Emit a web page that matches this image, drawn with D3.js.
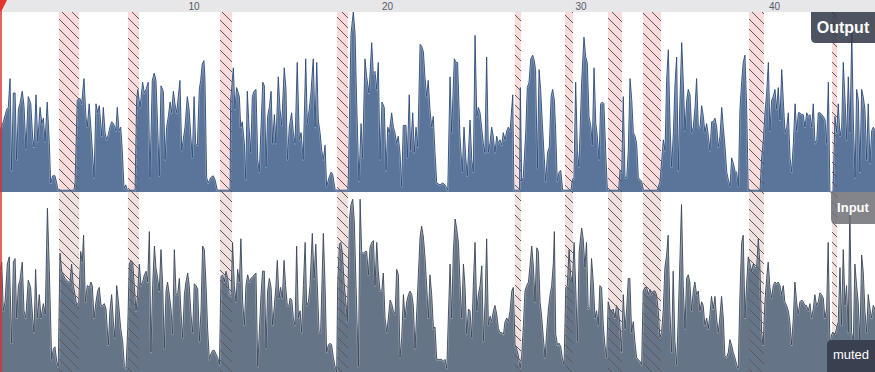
<!DOCTYPE html>
<html>
<head>
<meta charset="utf-8">
<script src="https://cdn.jsdelivr.net/npm/d3@7"></script>
<style>
  html, body { margin: 0; padding: 0; background: #fff; }
  svg { display: block; }
  text { font-family: "Liberation Sans", Arial, sans-serif; }
</style>
</head>
<body>
<svg id="chart" width="875" height="372"></svg>
<script>
// time in seconds, level in % of track height
const outTime = [
  0.00,0.17,0.35,0.43,0.52,0.60,0.69,0.78,0.86,0.95,1.03,1.15,1.24,1.29,1.34,1.46,1.59,1.69,1.76,1.86,
  1.95,2.07,2.16,2.24,2.33,2.44,2.55,2.62,2.72,2.84,2.93,3.01,3.82,3.88,3.99,4.13,4.22,4.34,4.44,4.51,
  4.61,4.74,4.86,4.96,5.05,5.13,
  5.26,5.34,5.43,5.51,5.60,5.68,5.77,5.86,5.94,5.99,6.06,6.15,6.24,6.32,6.41,6.50,6.58,6.98,7.06,7.12,
  7.24,7.37,7.46,7.55,7.66,7.75,7.87,7.97,8.06,8.15,8.23,8.32,8.44,8.53,8.61,8.70,8.79,8.87,8.96,9.04,
  9.13,9.30,9.39,9.47,9.56,9.68,9.77,9.86,9.94,10.03,10.11,10.20,10.30,10.37,10.45,10.54,10.59,10.68,10.76,10.89,
  11.02,11.11,11.23,11.89,11.92,12.06,12.14,12.23,12.37,12.44,12.52,12.63,12.70,12.78,12.87,12.96,13.04,13.13,13.23,13.32,
  13.40,13.49,13.58,13.66,13.75,13.83,13.92,14.01,14.09,14.18,14.26,14.38,14.47,14.56,14.69,14.78,14.85,14.95,
  15.07,15.16,15.25,15.36,15.47,15.56,15.67,15.80,15.88,15.98,16.07,16.19,16.28,16.37,16.45,16.54,16.63,16.71,16.80,16.88,
  17.00,17.11,17.19,17.31,17.40,17.97,18.00,18.14,18.26,18.35,18.43,18.55,18.66,18.74,18.86,18.95,19.07,19.21,19.29,19.38,
  19.47,19.55,19.64,19.74,19.86,19.95,20.04,20.12,20.24,20.33,20.41,20.50,20.58,20.67,20.76,20.84,20.98,21.05,21.15,21.22,
  21.33,21.41,21.50,21.59,21.71,21.79,21.88,21.96,22.05,22.13,22.22,22.31,22.39,22.48,22.57,22.74,22.88,23.00,23.14,23.26,
  23.34,23.48,23.57,23.65,23.77,23.89,23.98,24.07,24.15,24.29,24.38,24.46,24.55,24.64,24.72,24.81,24.89,24.98,25.06,25.15,
  25.24,25.32,25.41,25.49,25.58,25.67,25.75,25.84,25.93,26.01,26.10,26.19,26.27,26.36,26.50,26.56,26.85,26.89,26.96,27.04,
  27.17,27.25,27.34,27.43,27.53,27.61,27.68,27.77,27.86,27.94,28.03,28.11,28.20,28.30,28.39,28.48,28.56,28.65,28.72,28.80,
  28.89,28.98,29.08,29.51,29.58,29.66,29.75,29.84,29.92,30.06,30.18,30.27,30.35,30.44,30.54,30.61,30.70,30.79,30.87,30.96,
  31.04,31.13,31.21,31.30,31.39,31.97,32.04,32.13,32.21,32.30,32.39,32.47,32.56,32.65,32.73,32.82,32.90,32.99,33.07,33.16,
  33.25,33.97,34.11,34.20,34.28,34.37,34.45,34.54,34.63,34.71,34.80,34.88,34.97,35.05,35.14,35.23,35.31,35.40,35.49,35.57,
  35.66,35.75,35.83,35.92,36.00,36.09,36.18,36.26,36.35,36.43,36.52,36.61,36.69,36.78,36.86,36.95,37.04,37.12,37.21,37.30,
  37.38,37.47,37.56,37.64,37.73,37.81,37.90,37.98,38.07,38.16,38.24,38.33,38.41,38.50,38.59,38.67,39.28,39.36,39.45,39.53,
  39.62,39.71,39.79,39.88,39.96,40.05,40.14,40.22,40.31,40.40,40.48,40.57,40.66,40.74,40.83,40.91,41.00,41.09,41.17,41.26,
  41.34,41.43,41.51,41.60,41.69,41.77,41.86,41.95,42.03,42.12,42.21,42.29,42.38,42.47,42.55,42.64,42.72,42.81,42.89,43.05,
  43.15,43.24,43.32,43.41,43.50,43.58,43.67,43.76,43.84,43.93,44.02,44.10,44.19,44.27,44.36,44.44,44.53,44.61,44.70,44.79,
  44.87,44.96,45.05,45.13,45.22
];
const outLevel = [
  34,39,46,47,63,12,55,55,18,46,49,56,48,36,24,53,49,30,25,54,
  28,47,38,41,28,50,27,5,9,9,5,1,1,5,51,52,49,63,42,36,
  49,29,8,49,44,48,
  31,47,33,29,32,36,39,38,36,34,47,34,36,23,2,4,1,1,51,57,
  47,61,55,57,61,8,62,66,62,36,9,59,56,18,36,42,50,44,56,49,
  44,62,23,29,36,53,46,31,19,53,27,26,57,62,71,73,64,8,5,8,
  9,7,1,1,51,69,46,58,53,36,39,27,7,56,36,22,53,56,57,18,
  11,36,61,59,14,42,47,56,27,43,27,64,46,37,69,57,18,36,
  44,33,27,72,29,33,18,74,38,46,55,74,36,72,40,33,23,18,26,3,
  8,11,10,2,1,1,7,88,100,88,51,6,38,19,74,64,55,83,66,67,
  57,72,18,50,47,12,36,33,44,36,33,27,31,22,3,37,37,19,54,23,
  44,22,36,25,82,81,78,64,53,62,46,36,42,22,5,4,5,4,1,64,
  33,74,72,72,31,11,36,19,9,40,18,11,87,42,47,44,36,27,22,75,
  22,27,36,31,22,31,27,29,26,33,29,34,36,34,54,1,1,58,6,8,
  33,58,61,74,76,73,68,13,68,57,38,22,6,22,25,53,57,51,33,6,
  11,12,1,1,7,8,61,23,14,61,86,75,72,42,36,26,69,38,31,18,
  49,50,49,23,1,1,12,11,53,8,8,23,63,51,33,31,27,8,7,6,
  1,1,6,18,29,23,62,79,36,14,33,59,75,12,51,83,62,34,51,57,
  54,33,36,47,63,36,36,48,42,33,38,31,23,39,39,41,36,25,31,47,
  36,25,11,7,3,19,16,12,11,3,46,61,72,76,46,1,1,19,29,44,
  55,72,34,51,53,57,46,58,40,68,51,33,36,44,19,11,27,49,34,44,
  44,43,43,36,44,42,43,36,49,27,29,44,44,43,42,40,27,61,0,0,
  42,33,49,31,36,72,51,29,64,33,89,40,8,57,51,11,57,53,46,18,
  49,16,34,36,34
];
const inTime = [
  0.00,0.09,0.17,0.26,0.38,0.48,0.60,0.69,0.78,0.86,0.95,1.03,1.15,1.24,1.33,1.46,1.58,1.69,1.76,1.84,
  1.93,2.03,2.12,2.24,2.34,2.45,2.55,2.67,2.76,2.84,2.93,3.01,3.10,3.19,3.27,3.36,3.45,3.53,3.62,3.70,
  3.79,3.88,3.96,4.07,4.17,4.25,4.32,4.41,4.51,4.62,4.70,4.77,4.86,4.96,5.05,5.13,5.22,5.31,5.39,5.48,
  5.60,5.68,5.77,5.86,5.94,6.03,6.12,6.24,6.34,6.43,6.51,6.60,6.68,6.77,6.86,6.94,7.03,7.11,7.20,7.29,
  7.37,7.46,7.55,7.63,7.72,7.80,7.89,7.98,8.06,8.15,8.23,8.32,8.41,8.49,8.58,8.66,8.75,8.84,8.92,9.01,
  9.10,9.18,9.27,9.35,9.44,9.53,9.61,9.70,9.78,9.87,9.96,10.04,10.13,10.22,10.30,10.39,10.47,10.56,10.65,10.73,
  10.82,10.90,10.99,11.08,11.16,11.25,11.34,11.42,11.51,11.59,11.68,11.77,11.85,11.94,12.02,12.11,12.20,12.28,12.37,12.45,
  12.54,12.63,12.71,12.80,12.89,12.97,13.06,13.14,13.23,13.32,13.40,13.49,13.57,13.66,13.75,13.83,13.92,14.01,14.09,14.18,
  14.26,14.33,14.42,14.50,14.59,14.68,14.76,14.85,14.94,
  14.99,15.08,15.16,15.25,15.33,15.42,15.51,15.59,15.68,15.77,15.85,15.94,16.02,16.14,16.23,16.32,16.40,16.49,16.57,16.71,
  16.80,16.88,16.97,17.06,17.14,17.23,17.32,17.40,17.45,17.54,17.61,17.69,17.78,17.87,17.95,18.06,18.14,18.23,18.31,18.40,
  18.52,18.61,18.69,18.78,18.87,18.95,19.04,19.12,19.21,19.30,19.38,19.47,19.55,19.64,19.73,19.81,19.90,19.99,20.07,20.16,
  20.24,20.33,20.42,20.50,20.59,20.67,20.76,20.85,20.93,21.02,21.11,21.19,21.28,21.36,21.45,21.54,21.62,21.71,21.79,21.88,
  21.97,22.05,22.14,22.22,22.31,22.40,22.48,22.57,22.65,22.74,22.83,22.91,23.00,23.09,23.17,23.26,23.34,23.43,23.52,23.60,
  23.69,23.78,23.86,23.95,24.03,24.12,24.21,24.29,24.38,24.46,24.55,24.64,24.72,24.81,24.90,24.98,25.07,25.15,25.24,25.33,
  25.41,25.50,25.58,25.67,25.76,25.84,25.93,26.02,26.10,26.19,26.27,26.36,26.45,26.53,26.62,26.70,26.79,26.88,26.96,27.05,
  27.13,27.22,27.31,27.39,27.48,27.57,27.65,27.74,27.82,27.91,28.00,28.08,28.17,28.25,28.34,28.43,28.51,28.60,28.65,28.72,
  28.81,28.89,28.98,29.06,29.15,29.24,29.32,29.41,29.49,29.58,29.67,29.75,29.84,29.93,
  30.06,30.14,30.23,30.31,30.40,30.49,30.57,30.66,30.75,30.83,30.92,31.00,31.09,31.18,31.26,31.35,31.43,31.52,31.61,31.69,
  31.78,31.86,31.95,32.04,32.12,32.21,32.30,32.38,32.47,32.55,32.64,32.73,32.81,32.90,32.98,33.07,33.16,33.24,33.33,33.42,
  33.50,33.59,33.67,33.76,33.85,33.93,34.02,34.10,34.19,34.28,34.36,34.45,34.53,34.62,34.71,34.79,34.88,34.97,35.05,35.14,
  35.22,35.31,35.40,35.48,35.57,35.65,35.74,35.83,35.91,36.00,36.09,36.17,36.26,36.34,36.43,36.52,36.60,36.69,36.77,36.86,
  36.95,37.03,37.12,37.20,37.29,37.38,37.46,37.55,37.64,37.72,37.81,37.89,37.98,38.07,38.15,38.24,38.33,38.41,38.50,38.58,
  38.67,38.76,38.84,38.93,39.01,39.10,39.19,39.27,39.36,39.44,39.53,39.62,39.70,39.79,39.88,39.96,40.05,40.13,40.22,40.31,
  40.39,40.48,40.56,40.65,40.74,40.82,40.91,41.00,41.08,41.17,41.25,41.34,41.43,41.51,41.60,41.68,41.77,41.86,41.94,42.03,
  42.11,42.20,42.29,42.37,42.46,42.55,42.63,42.72,42.80,42.89,42.98,43.06,43.15,43.23,43.32,43.41,43.49,43.58,43.67,43.75,
  43.84,43.92,44.01,44.10,44.18,44.27,44.35,44.44,44.53,44.61,44.70,44.79,44.87,44.96,45.04,45.13,45.22
];
const inLevel = [
  56,61,34,39,60,64,16,61,63,30,48,51,61,34,30,51,47,30,22,57,
  30,43,30,38,32,91,56,7,13,14,6,3,66,56,54,52,51,50,50,60,
  48,43,37,39,67,61,76,39,48,47,50,48,30,39,45,47,37,37,38,35,
  15,34,43,28,19,48,39,24,17,3,2,24,60,62,61,48,34,43,60,48,
  50,54,56,50,78,11,48,70,58,52,45,68,48,13,45,50,43,35,21,68,
  43,43,52,34,19,43,50,55,48,32,22,49,48,46,17,34,70,68,48,24,
  7,10,12,12,10,8,4,53,54,50,56,52,43,42,72,48,39,57,50,74,
  39,26,48,54,50,52,53,54,55,3,22,43,56,56,13,45,52,47,26,37,
  48,62,41,47,41,62,48,37,37,
  41,40,30,26,70,30,34,22,48,72,37,39,48,77,52,71,48,22,22,77,
  48,11,15,16,15,8,3,0,48,71,72,67,50,39,28,85,93,96,84,48,
  3,96,67,66,67,67,54,69,72,73,48,72,56,45,45,55,30,22,30,40,
  38,34,32,57,54,8,19,43,30,39,43,45,43,37,13,34,54,75,81,75,
  63,48,30,54,43,24,25,7,7,7,7,6,7,2,30,60,30,67,85,80,
  72,48,30,60,48,21,35,34,19,48,72,34,43,48,59,17,39,74,26,31,
  28,34,37,32,24,22,22,21,28,30,28,34,45,47,15,13,9,2,9,26,
  45,48,50,59,70,58,39,69,67,39,30,19,8,22,35,43,48,61,78,21,
  15,16,14,8,4,47,48,68,54,50,72,48,17,67,
  80,74,58,72,35,36,63,50,30,34,26,48,47,26,15,8,39,35,34,35,
  30,37,35,26,11,43,24,34,52,52,22,28,17,8,7,6,4,45,47,47,
  43,46,43,45,45,43,34,19,22,35,58,65,76,34,11,56,17,4,30,63,
  93,48,24,52,54,50,34,45,50,43,45,34,39,37,26,30,24,32,42,35,
  42,30,22,30,42,30,9,8,11,18,15,11,8,4,2,43,72,76,30,48,
  64,60,56,60,58,58,74,60,22,15,39,52,61,47,41,48,50,49,50,48,
  43,48,39,37,34,28,15,30,50,39,32,39,40,39,37,37,34,38,30,35,
  43,37,39,44,43,41,30,35,72,15,21,22,21,24,28,58,26,68,37,48,
  22,93,22,17,60,48,39,17,65,56,34,22,43,35,30,37,35
];
const mutedStart = [3.05, 6.61, 11.37, 17.42, 26.61, 29.20, 31.42, 33.23, 38.71, 43.00];
const mutedEnd   = [4.08, 7.18, 11.99, 17.98, 26.93, 29.61, 32.14, 34.16, 39.48, 43.26];
const tickValues = [10, 20, 30, 40];
const trackNames = ['Output', 'Input'];
const mutedLabel = 'muted';

const W = 875, H = 372, rulerH = 12, mid = 192;
const svg = d3.select('#chart');

const x = d3.scaleLinear().domain([0, 45.22]).range([0, W]);
const yOut = d3.scaleLinear().domain([0, 100]).range([mid, rulerH]);
const yIn = d3.scaleLinear().domain([0, 100]).range([H, mid]);

const outData = outTime.map((t, i) => ({ t: t, v: outLevel[i] }));
const inData = inTime.map((t, i) => ({ t: t, v: inLevel[i] }));
const muted = mutedStart.map((s, i) => ({ s: s, e: mutedEnd[i] }));

// hatch pattern for muted ranges
const defs = svg.append('defs');
const pat = defs.append('pattern')
    .attr('id', 'hatch')
    .attr('patternUnits', 'userSpaceOnUse')
    .attr('width', 10).attr('height', 10);
pat.append('path')
    .attr('d', 'M-1,-1L11,11M-1,9L1,11M9,-1L11,1')
    .attr('stroke', '#5e5659')
    .attr('stroke-width', 1)
    .attr('shape-rendering', 'crispEdges')
    .attr('fill', 'none');

// pink background of muted ranges (slightly greyer in the input track)
const bg = svg.append('g');
bg.selectAll('rect.o')
    .data(muted).enter().append('rect')
    .attr('x', d => x(d.s))
    .attr('width', d => x(d.e) - x(d.s))
    .attr('y', rulerH)
    .attr('height', mid - rulerH)
    .attr('fill', '#f9dbdb');
bg.selectAll('rect.i')
    .data(muted).enter().append('rect')
    .attr('x', d => x(d.s))
    .attr('width', d => x(d.e) - x(d.s))
    .attr('y', mid)
    .attr('height', H - mid)
    .attr('fill', '#f0e0de');

function drawTrack(data, y, base, fill, stroke) {
    const area = d3.area().x(d => x(d.t)).y0(base).y1(d => y(d.v));
    const line = d3.line().x(d => x(d.t)).y(d => y(d.v));
    svg.append('path').datum(data).attr('d', area).attr('fill', fill);
    svg.append('path').datum(data).attr('d', line)
        .attr('fill', 'none').attr('stroke', '#ffffff')
        .attr('stroke-opacity', 0.4).attr('stroke-width', 2)
        .attr('stroke-linejoin', 'round');
    svg.append('path').datum(data).attr('d', line)
        .attr('fill', 'none').attr('stroke', stroke)
        .attr('stroke-width', 0.9).attr('stroke-linejoin', 'round');
}

drawTrack(outData, yOut, mid, '#5a7599', '#2b4a78');
drawTrack(inData, yIn, H, '#667487', '#394558');

// hatch on top
svg.append('g').selectAll('rect')
    .data(muted).enter().append('rect')
    .attr('x', d => x(d.s))
    .attr('width', d => x(d.e) - x(d.s))
    .attr('y', rulerH)
    .attr('height', H - rulerH)
    .attr('fill', 'url(#hatch)');

// ruler
svg.append('rect').attr('x', 0).attr('y', 0).attr('width', W).attr('height', rulerH).attr('fill', '#e7e7ea');
const axis = d3.axisBottom(x).tickValues(tickValues).tickSize(0).tickPadding(2.5);
svg.append('g')
    .call(axis)
    .call(g => g.select('.domain').remove())
    .call(g => g.selectAll('text')
        .attr('font-family', '"Liberation Sans", Arial, sans-serif')
        .attr('font-size', 10)
        .attr('fill', '#555a66'));

// track labels
svg.append('path')
    .attr('d', 'M811,12H875V43H816Q811,43 811,38Z')
    .attr('fill', '#343b4a').attr('fill-opacity', 0.88);
svg.append('text').attr('x', 843).attr('y', 33).attr('text-anchor', 'middle')
    .attr('font-size', 16).attr('font-weight', 'bold').attr('fill', '#fff')
    .text(trackNames[0]);

svg.append('path')
    .attr('d', 'M831,192H875V224H836Q831,224 831,219Z')
    .attr('fill', '#6e7075').attr('fill-opacity', 0.85);
svg.append('text').attr('x', 853).attr('y', 211.5).attr('text-anchor', 'middle')
    .attr('font-size', 13).attr('font-weight', 'bold').attr('fill', '#fff')
    .text(trackNames[1]);

svg.append('path')
    .attr('d', 'M827,372H875V340H832Q827,340 827,345Z')
    .attr('fill', '#343b4a').attr('fill-opacity', 0.9);
svg.append('text').attr('x', 851).attr('y', 359).attr('text-anchor', 'middle')
    .attr('font-size', 13).attr('fill', '#fff')
    .text(mutedLabel);

// playhead
svg.append('line').attr('x1', 1).attr('x2', 1).attr('y1', 0).attr('y2', H)
    .attr('stroke', '#d9302c').attr('stroke-width', 1.5);
svg.append('path').attr('d', 'M0,0H7L1.5,11H0Z').attr('fill', '#e5342f');
</script>
</body>
</html>
